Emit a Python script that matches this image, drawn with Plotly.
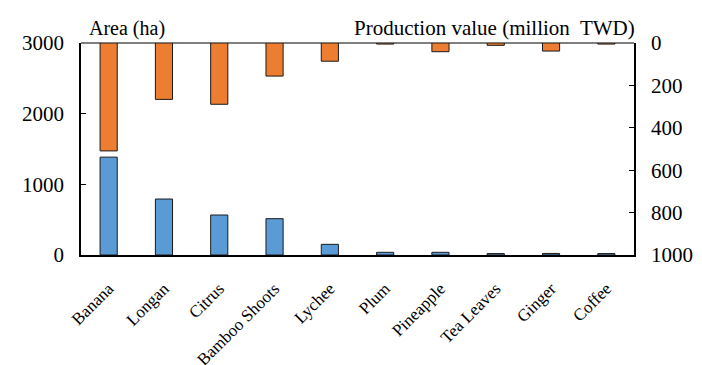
import plotly.graph_objects as go

categories = ["Banana", "Longan", "Citrus", "Bamboo Shoots", "Lychee", "Plum",
              "Pineapple", "Tea Leaves", "Ginger", "Coffee"]
area_ha = [1385, 792, 566, 514, 151, 38, 38, 20, 22, 20]
production_value = [509, 266, 289, 156, 86, 5, 41, 11, 38, 5]
left_ticks = [0, 1000, 2000, 3000]
right_ticks = [0, 200, 400, 600, 800, 1000]

FONT = "Liberation Serif"
BAR_W = 0.31

fig = go.Figure()
fig.add_trace(go.Bar(x=categories, y=area_ha, width=BAR_W, yaxis="y",
                     marker=dict(color="#5B9BD5", line=dict(color="#1a1a1a", width=1)),
                     name="Area (ha)"))
fig.add_trace(go.Bar(x=categories, y=production_value, width=BAR_W, yaxis="y2",
                     marker=dict(color="#ED7D31", line=dict(color="#1a1a1a", width=1)),
                     name="Production value"))

fig.update_layout(
    width=702, height=365,
    margin=dict(l=81, r=68, t=43, b=110),
    paper_bgcolor="white", plot_bgcolor="white",
    barmode="overlay", showlegend=False,
    font=dict(family=FONT, color="black"),
    xaxis=dict(showline=True, linecolor="black", linewidth=2, ticks="",
               tickangle=-45, tickfont=dict(size=17, family=FONT, color="black"),
               ticklabelstandoff=15, automargin=False,
               showgrid=False, zeroline=False),
    yaxis=dict(range=[0, 3000], tickvals=left_ticks, ticks="inside", ticklen=5,
               tickcolor="black", showline=True, linecolor="black", linewidth=1.5,
               showgrid=False, zeroline=False, automargin=False,
               tickfont=dict(size=21, family=FONT, color="black"),
               ticklabelstandoff=11),
    yaxis2=dict(range=[1000, 0], tickvals=right_ticks, overlaying="y", side="right",
                ticks="inside", ticklen=5, tickcolor="black", showline=True,
                linecolor="black", linewidth=1.5, showgrid=False, zeroline=False,
                automargin=False,
                tickfont=dict(size=21, family=FONT, color="black"),
                ticklabelstandoff=11),
    shapes=[dict(type="line", xref="paper", yref="paper", x0=0, x1=1, y0=1, y1=1,
                 line=dict(color="#7f7f7f", width=2), layer="below")],
    annotations=[
        dict(text="Area (ha)", xref="paper", yref="paper", x=0.01, y=1.0,
             xanchor="left", yanchor="bottom", yshift=1, showarrow=False,
             font=dict(size=20, family=FONT, color="black")),
        dict(text="Production value (million&nbsp; TWD)", xref="paper", yref="paper",
             x=1.0, y=1.0, xanchor="right", yanchor="bottom", yshift=1, xshift=3,
             showarrow=False, font=dict(size=21, family=FONT, color="black")),
    ],
)

fig.write_html("out.html")
